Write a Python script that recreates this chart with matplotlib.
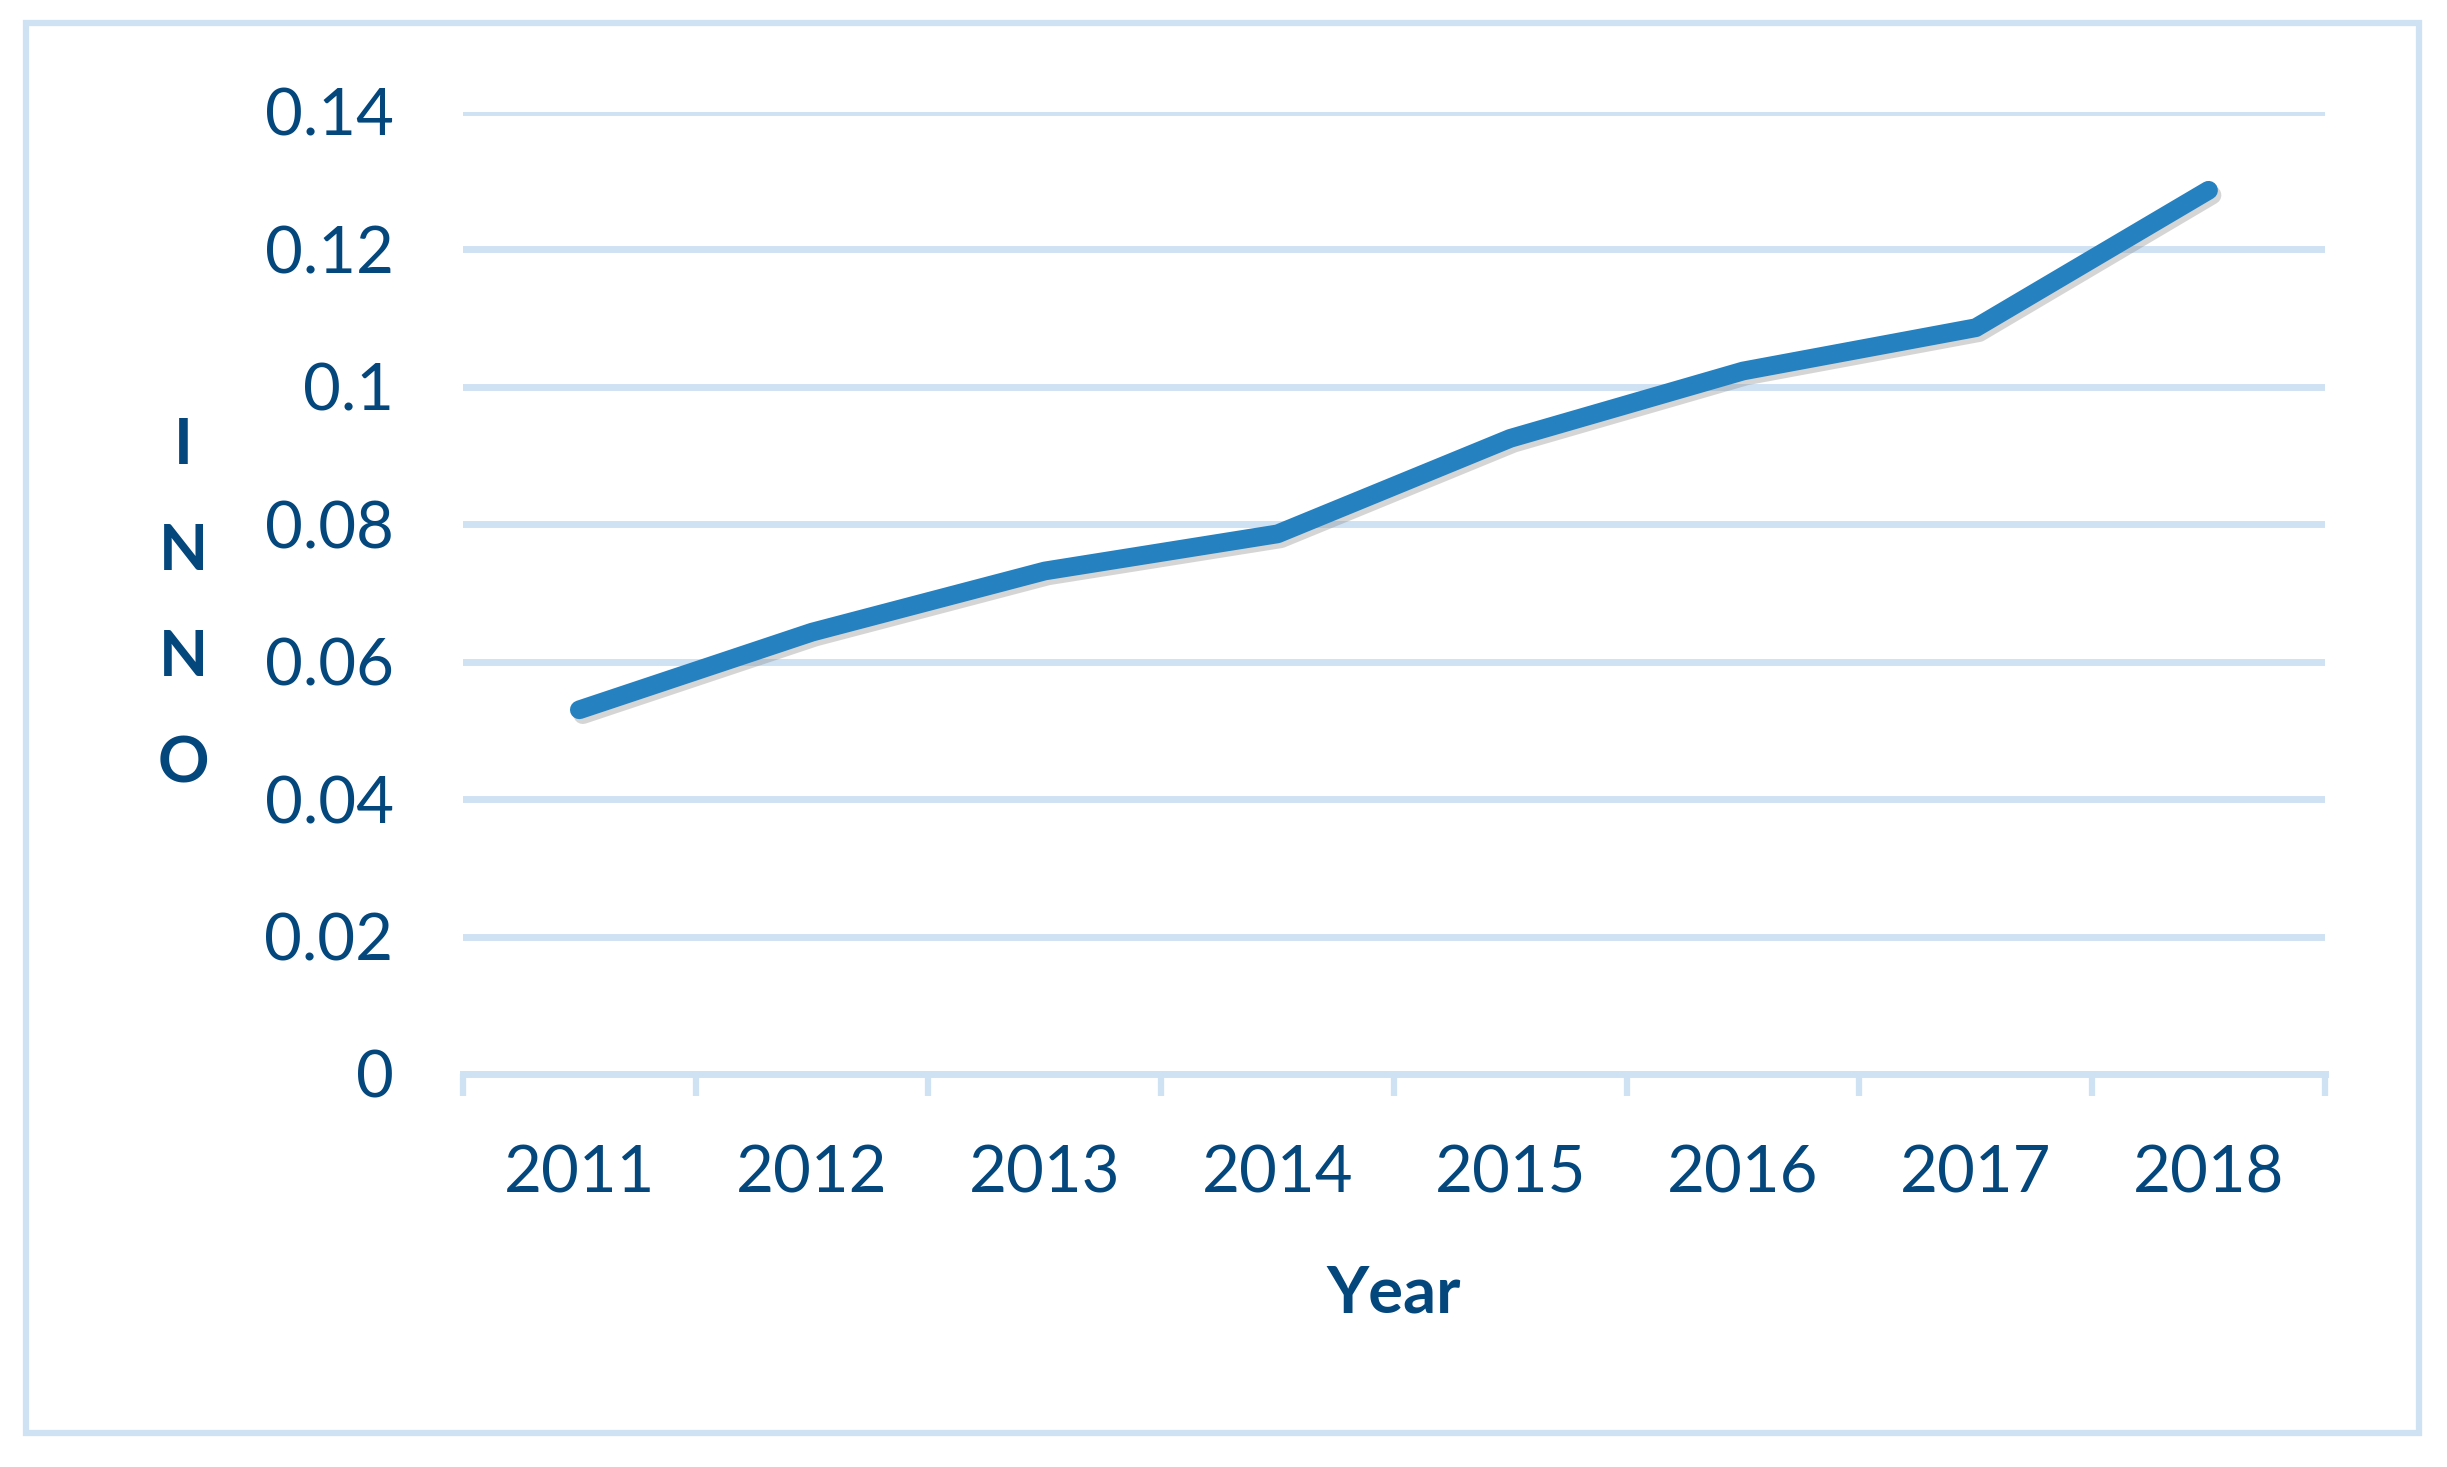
import matplotlib.pyplot as plt
import matplotlib.patheffects as pe
from matplotlib.patches import Rectangle

plt.rcParams['font.family'] = ['Lato', 'DejaVu Sans']

years = ['2011', '2012', '2013', '2014', '2015', '2016', '2017', '2018']
inno = [0.0530, 0.0643, 0.0732, 0.0786, 0.0925, 0.1023, 0.1086, 0.1286]
yticks = [0, 0.02, 0.04, 0.06, 0.08, 0.1, 0.12, 0.14]
ytick_labels = ['0', '0.02', '0.04', '0.06', '0.08', '0.1', '0.12', '0.14']

text_color = '#04477d'
grid_color = '#cfe2f3'
line_color = '#2681c0'

fig = plt.figure(figsize=(24.47, 14.67), dpi=100)
ax = fig.add_axes([0.1892, 0.2679, 0.7609, 0.6558])

# outer frame round the whole chart
fig.patches.append(Rectangle((26 / 2447, 1 - 1433 / 1467), (2419 - 26) / 2447, (1433 - 23) / 1467,
                             transform=fig.transFigure, fill=False, edgecolor=grid_color, linewidth=4.5))

x = list(range(len(years)))
ax.plot(x, inno, color=line_color, linewidth=13.5, solid_capstyle='round', solid_joinstyle='round',
        path_effects=[pe.SimpleLineShadow(offset=(2.5, -3.5), shadow_color='#888888', alpha=0.35),
                      pe.Normal()], zorder=3)

ax.set_xlim(-0.5, len(years) - 0.5)
ax.set_ylim(0, 0.14)

ax.set_yticks(yticks)
ax.set_yticklabels(ytick_labels)
ax.set_xticks(x)
ax.set_xticklabels(years)
ax.set_xticks([i - 0.5 for i in range(len(years) + 1)], minor=True)

ax.tick_params(axis='y', length=0, pad=50, labelsize=47, labelcolor=text_color)
ax.tick_params(axis='x', which='major', length=0, pad=51, labelsize=47, labelcolor=text_color)
ax.tick_params(axis='x', which='minor', length=16, width=4.5, color=grid_color)

ax.grid(axis='y', color=grid_color, linewidth=5)
ax.set_axisbelow(True)
for side in ['top', 'right', 'left']:
    ax.spines[side].set_visible(False)
ax.spines['bottom'].set_color(grid_color)
ax.spines['bottom'].set_linewidth(5)

ax.set_xlabel('Year', fontsize=47, fontweight='bold', color=text_color, labelpad=44)

# vertical stacked y label
for i, ch in enumerate('INNO'):
    fig.text(183 / 2447, 1 - (446 + i * 106) / 1467, ch, fontsize=46, fontweight='bold',
             color=text_color, ha='center', va='center')

fig.savefig('out.png', dpi=100)
